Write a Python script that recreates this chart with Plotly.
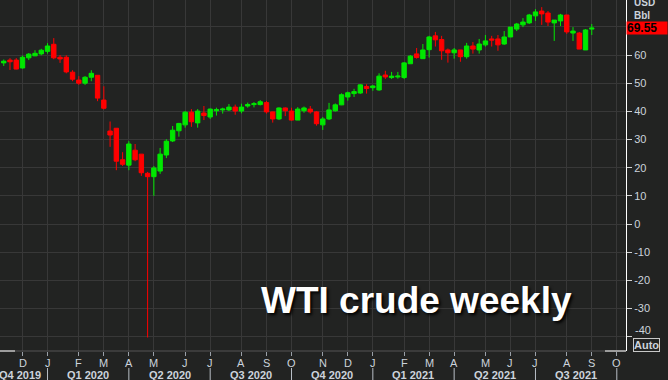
import pandas as pd
import plotly.graph_objects as go

# ---- data (weekly WTI candles) ----
first_week = "2019-11-15"
n_weeks = 95
opens = [57.2, 58.2, 58.2, 55.4, 59.0, 59.7, 60.4, 61.3, 63.8, 59.2,
         59.2, 53.9, 51.1, 50.0, 52.1, 52.8, 44.0, 33.0, 34.0, 22.8,
         20.9, 26.2, 24.8, 18.0, 16.8, 18.8, 24.5, 29.5, 33.1, 35.2,
         39.7, 35.9, 39.4, 38.0, 40.2, 40.5, 40.5, 41.5, 40.1, 41.9,
         42.4, 42.4, 43.1, 39.8, 37.3, 41.2, 40.1, 36.9, 40.2, 40.8,
         39.8, 35.2, 37.3, 40.2, 42.3, 45.1, 46.3, 46.5, 48.8, 48.4,
         47.6, 52.9, 52.0, 52.2, 52.0, 56.9, 60.4, 58.7, 61.9, 66.8,
         65.5, 61.8, 60.8, 61.8, 59.4, 63.2, 61.8, 63.6, 65.7, 65.7,
         63.9, 66.4, 69.2, 70.7, 71.4, 73.9, 75.6, 74.9, 71.4, 72.1,
         74.2, 67.8, 67.8, 61.8, 69.2]
highs = [58.4, 58.9, 58.9, 59.8, 60.7, 61.7, 62.2, 64.2, 66.0, 60.0,
         59.9, 54.6, 52.5, 52.5, 54.6, 52.8, 48.9, 36.4, 34.0, 25.5,
         29.4, 28.4, 24.8, 18.5, 20.6, 27.0, 30.1, 34.8, 35.9, 40.1,
         40.8, 40.8, 41.9, 41.0, 41.3, 41.3, 42.6, 42.4, 42.7, 43.1,
         43.3, 44.0, 43.7, 39.9, 41.4, 41.4, 41.3, 41.5, 41.7, 41.9,
         40.1, 38.0, 43.0, 42.8, 46.4, 47.0, 48.0, 49.6, 49.6, 49.4,
         53.5, 54.4, 54.0, 54.0, 57.5, 60.0, 62.5, 63.9, 66.8, 68.2,
         66.8, 62.3, 62.5, 61.8, 64.3, 64.6, 65.7, 67.1, 66.8, 67.1,
         68.5, 69.9, 71.4, 73.1, 74.6, 76.3, 77.0, 75.6, 72.4, 74.6,
         74.2, 69.9, 68.2, 69.2, 71.0]
lows = [56.1, 54.7, 54.9, 55.2, 58.2, 59.6, 59.9, 60.5, 58.5, 57.2,
        53.5, 50.7, 49.4, 49.4, 50.7, 43.6, 40.7, 27.4, 19.1, 20.6,
        19.1, 22.3, 17.1, -40.3, 10.0, 17.8, 23.4, 29.1, 31.0, 34.2,
        34.5, 34.2, 36.9, 37.3, 38.5, 39.2, 40.1, 38.8, 39.3, 41.3,
        41.4, 42.1, 39.2, 36.0, 36.9, 38.3, 36.7, 36.9, 39.5, 39.2,
        34.9, 33.4, 36.9, 39.9, 42.2, 43.8, 45.1, 46.2, 46.3, 47.3,
        47.3, 51.5, 51.5, 51.6, 51.5, 56.9, 58.7, 58.7, 59.1, 63.0,
        58.3, 57.3, 58.7, 57.6, 58.7, 60.5, 60.5, 63.0, 63.0, 61.5,
        63.6, 66.4, 68.5, 69.9, 71.0, 72.1, 70.7, 70.3, 65.0, 70.3,
        67.5, 65.0, 62.1, 61.8, 67.1]
closes = [57.8, 57.6, 55.0, 59.2, 60.3, 60.6, 61.7, 63.2, 59.0, 58.6,
          54.0, 51.4, 50.0, 52.1, 53.5, 44.7, 41.1, 31.6, 22.3, 21.2,
          28.4, 22.8, 18.2, 16.8, 19.9, 24.8, 29.4, 33.3, 35.7, 39.7,
          36.3, 40.1, 38.5, 40.8, 40.6, 40.8, 41.5, 40.1, 41.5, 42.4,
          42.7, 43.4, 39.8, 37.3, 41.2, 40.2, 36.9, 40.8, 41.2, 39.8,
          35.6, 37.3, 40.5, 42.3, 45.9, 46.6, 47.0, 49.4, 48.1, 49.0,
          52.5, 52.2, 52.5, 52.5, 57.2, 59.6, 59.1, 61.8, 66.4, 65.4,
          61.5, 60.8, 61.8, 59.4, 63.2, 62.1, 63.9, 65.0, 65.3, 63.6,
          66.4, 69.9, 71.0, 71.7, 74.2, 75.3, 74.6, 71.7, 72.4, 74.2,
          68.2, 68.5, 62.1, 68.9, 69.55]
last_price = "69.55"

month_tick_dates = ["2019-12-06", "2020-01-03", "2020-02-07", "2020-03-06", "2020-04-03",
                    "2020-05-01", "2020-06-05", "2020-07-03", "2020-08-07", "2020-09-04",
                    "2020-10-02", "2020-11-06", "2020-12-04", "2021-01-01", "2021-02-05",
                    "2021-03-05", "2021-04-02", "2021-05-07", "2021-06-04", "2021-07-02",
                    "2021-08-06", "2021-09-03", "2021-10-01"]
month_tick_labels = ["D", "J", "F", "M", "A", "M", "J", "J", "A", "S", "O", "N",
                     "D", "J", "F", "M", "A", "M", "J", "J", "A", "S", "O"]
quarter_starts = ["2020-01-03", "2020-04-03", "2020-07-03", "2020-10-02",
                  "2021-01-01", "2021-04-02", "2021-07-02", "2021-10-01"]
quarter_labels = ["Q4 2019", "Q1 2020", "Q2 2020", "Q3 2020", "Q4 2020",
                  "Q1 2021", "Q2 2021", "Q3 2021"]
y_ticks = [-40, -30, -20, -10, 0, 10, 20, 30, 40, 50, 60, 70]
y_tick_text = ["", "-30", "-20", "-10", "0", "10", "20", "30", "40", "50", "60", ""]

dates = pd.date_range(first_week, periods=n_weeks, freq="W-FRI")

BG = "#222322"
GRID = "#383838"
TXT = "#ccd3dc"
GREEN = "#00e800"
RED = "#ff0000"

W, H = 668, 380
ML, MR, MT, MB = 0, 42, 0, 29
PW, PH = W - ML - MR, H - MT - MB

fig = go.Figure()
fig.add_trace(go.Candlestick(
    x=dates, open=opens, high=highs, low=lows, close=closes,
    increasing=dict(line=dict(color=GREEN, width=1), fillcolor=GREEN),
    decreasing=dict(line=dict(color=RED, width=1), fillcolor=RED),
    whiskerwidth=0, showlegend=False, hoverinfo="skip",
))

font_axis = "Liberation Sans, Arial, sans-serif"

annotations = []
# month labels
for d, lab in zip(month_tick_dates, month_tick_labels):
    annotations.append(dict(xref="x", yref="paper", x=d, y=-11.5 / PH,
                            xanchor="center", yanchor="middle", text=lab, showarrow=False,
                            font=dict(family=font_axis, size=11, color=TXT)))
# quarter labels
qs = pd.to_datetime(quarter_starts)
for i, lab in enumerate(quarter_labels):
    if i == 0:
        annotations.append(dict(xref="paper", yref="paper", x=43 / PW, y=-23.5 / PH,
                                xanchor="right", yanchor="middle", text=lab, showarrow=False,
                                font=dict(family=font_axis, size=11, color=TXT, weight="bold")))
    else:
        mid = qs[i - 1] + (qs[i] - qs[i - 1]) / 2
        annotations.append(dict(xref="x", yref="paper", x=mid, y=-23.5 / PH,
                                xanchor="center", yanchor="middle", text=lab, showarrow=False,
                                font=dict(family=font_axis, size=11, color=TXT, weight="bold")))

# title
annotations.append(dict(xref="paper", yref="paper", x=416.7 / PW, y=(PH - 300.5) / PH,
                        xanchor="center", yanchor="middle", text="WTI crude weekly",
                        showarrow=False,
                        font=dict(family="Liberation Sans, Arial, sans-serif", size=37,
                                  color="white", weight="bold",
                                  shadow="2px 2px 3px rgba(0,0,0,0.95)")))
# price box
annotations.append(dict(xref="paper", yref="y", x=1.0, y=float(last_price),
                        xanchor="left", yanchor="middle", text=last_price, showarrow=False,
                        bgcolor=RED, width=40, height=12, align="left", borderpad=0,
                        font=dict(family=font_axis, size=12, color="black", weight="bold")))
# USD / Bbl
annotations.append(dict(xref="paper", yref="paper", x=(632 - ML) / PW, y=(PH - 2.5) / PH,
                        xanchor="left", yanchor="middle", text="USD", showarrow=False,
                        font=dict(family=font_axis, size=10, color=TXT, weight="bold")))
annotations.append(dict(xref="paper", yref="paper", x=(632 - ML) / PW, y=(PH - 15.3) / PH,
                        xanchor="left", yanchor="middle", text="Bbl", showarrow=False,
                        font=dict(family=font_axis, size=10, color=TXT, weight="bold")))
# -40 label shifted up
annotations.append(dict(xref="paper", yref="paper", x=(632.5 - ML) / PW, y=(PH - 329.5) / PH,
                        xanchor="left", yanchor="middle", text="-40", showarrow=False,
                        font=dict(family=font_axis, size=11, color=TXT)))
# Auto button
annotations.append(dict(xref="paper", yref="paper", x=(646.5 - ML) / PW, y=(PH - 344.5) / PH,
                        xanchor="center", yanchor="middle", text="Auto", showarrow=False,
                        bordercolor="#c8c8c8", borderwidth=1, borderpad=0, bgcolor=BG,
                        font=dict(family=font_axis, size=11, color=TXT, weight="bold")))

shapes = []
# bottom axis line
shapes.append(dict(type="line", xref="paper", yref="paper", x0=0, x1=1, y0=0, y1=0,
                   line=dict(color="#555555", width=1)))
shapes.append(dict(type="line", xref="paper", yref="paper", x0=0, x1=15 / PW, y0=0, y1=0,
                   line=dict(color="white", width=1)))
shapes.append(dict(type="line", xref="paper", yref="paper", x0=605 / PW, x1=1, y0=0, y1=0,
                   line=dict(color="white", width=1)))
# quarter separators
for q in quarter_starts:
    shapes.append(dict(type="line", xref="x", yref="paper", x0=q, x1=q,
                       y0=-17 / PH, y1=-29 / PH, line=dict(color="#b8bec6", width=1)))

fig.update_layout(
    width=W, height=H,
    margin=dict(l=ML, r=MR, t=MT, b=MB, pad=0),
    paper_bgcolor=BG, plot_bgcolor=BG,
    showlegend=False,
    boxgap=0.3, boxgroupgap=0.0,
    annotations=annotations, shapes=shapes,
    xaxis=dict(
        type="date",
        range=["2019-11-10 19:40", "2021-10-11 07:00"],
        rangeslider=dict(visible=False),
        tickmode="array", tickvals=month_tick_dates, ticktext=month_tick_labels,
        showticklabels=False,
        ticks="outside", ticklen=4, tickcolor="#9aa0a8", tickwidth=1,
        showgrid=True, gridcolor=GRID, gridwidth=1,
        showline=False, zeroline=False, fixedrange=True,
    ),
    yaxis=dict(
        side="right",
        range=[-45.09, 79.53],
        tickmode="array", tickvals=y_ticks, ticktext=y_tick_text,
        ticks="outside", ticklen=5, tickcolor="#d0d0d0", tickwidth=1,
        tickfont=dict(family=font_axis, size=11, color=TXT),
        showgrid=True, gridcolor=GRID, gridwidth=1,
        showline=True, linecolor="white", linewidth=1,
        zeroline=False, fixedrange=True,
    ),
)

fig.write_html("out.html")
